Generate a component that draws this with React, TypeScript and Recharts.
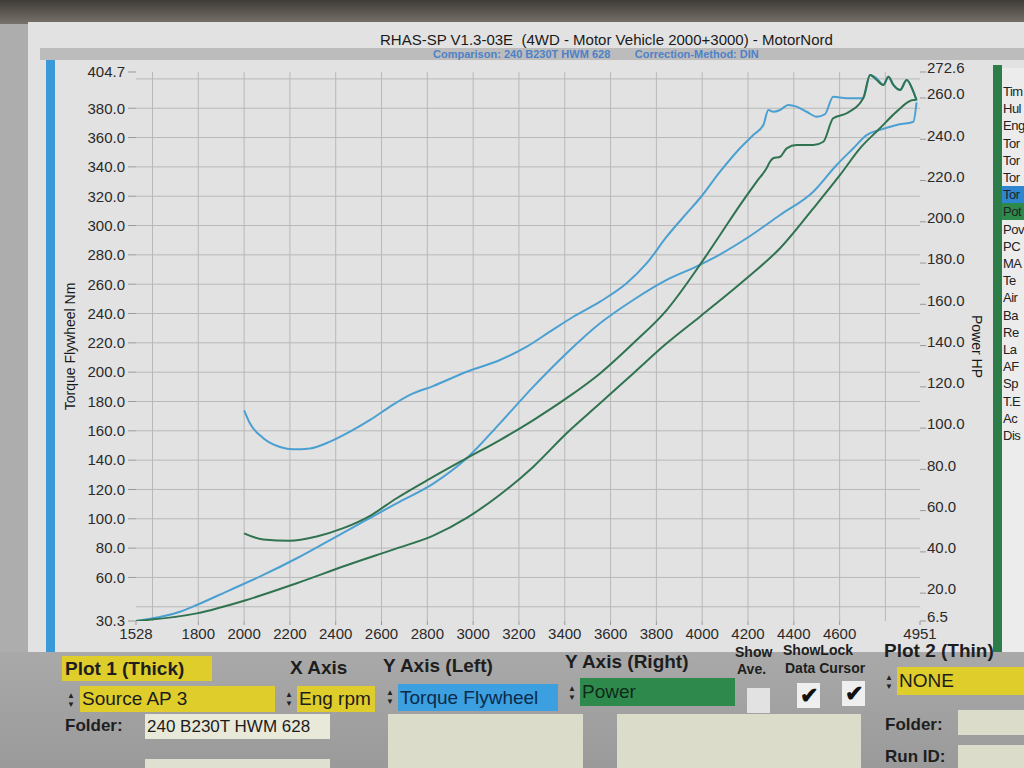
import React from 'react';
import { LineChart, Line, XAxis, YAxis, CartesianGrid } from 'recharts';

// x axis (engine rpm)
const rpmTicks = [1528, 1800, 2000, 2200, 2400, 2600, 2800, 3000, 3200, 3400, 3600, 3800, 4000, 4200, 4400, 4600, 4951];
const rpmGrid = [1600, 1800, 2000, 2200, 2400, 2600, 2800, 3000, 3200, 3400, 3600, 3800, 4000, 4200, 4400, 4600, 4800];

// left axis (torque Nm) and right axis (power HP)
const torqueTicks = [30.3, 60, 80, 100, 120, 140, 160, 180, 200, 220, 240, 260, 280, 300, 320, 340, 360, 380, 404.7];
const torqueGrid = [40, 60, 80, 100, 120, 140, 160, 180, 200, 220, 240, 260, 280, 300, 320, 340, 360, 380, 400];
const powerTicks = [6.5, 20, 40, 60, 80, 100, 120, 140, 160, 180, 200, 220, 240, 260, 272.6];

// run starting at 2000 rpm
const torqueA_rpm = [2000, 2026, 2084, 2157, 2215, 2288, 2375, 2462, 2550, 2637, 2724, 2825, 2972, 3117, 3234, 3335, 3437, 3554, 3670, 3758, 3845, 3932, 3990, 4078, 4165, 4223, 4267, 4289, 4310, 4340, 4376, 4412, 4456, 4500, 4536, 4572, 4631, 4703, 4733, 4762, 4791, 4813, 4835, 4864, 4893, 4922, 4936];
const torqueA_nm = [174, 165, 155, 149, 147.4, 148, 152.6, 159.4, 167.4, 176.5, 184.5, 190.5, 200.3, 208.3, 217.4, 227.6, 237.8, 248.1, 260.6, 274.3, 292.4, 308.3, 318.6, 336.7, 352.7, 361.7, 368.6, 378.8, 377.6, 378.8, 382.2, 381.1, 377.6, 374.2, 375.9, 387.9, 386.8, 386.8, 402.7, 400.4, 395.8, 401.5, 395.8, 392.4, 399.3, 391.3, 385];
const powerA_rpm = [2000, 2084, 2200, 2317, 2433, 2550, 2666, 2812, 2972, 3117, 3263, 3408, 3554, 3699, 3845, 3990, 4078, 4165, 4238, 4281, 4296, 4310, 4340, 4369, 4412, 4485, 4529, 4572, 4631, 4703, 4733, 4762, 4791, 4813, 4835, 4864, 4893, 4922, 4936];
const powerA_hp = [49, 46, 45.4, 47.5, 51.5, 57.5, 66, 75.5, 85.4, 94.2, 103.9, 114.5, 126.5, 141.1, 157.2, 179.1, 193.6, 208.1, 219.5, 225.9, 229.1, 230.8, 231.5, 235.6, 237.2, 237.2, 238.8, 250.2, 252.6, 259.9, 271.2, 268.7, 266.3, 270.3, 266.3, 263.9, 268.7, 263.1, 259];

// run starting at 1528 rpm
const torqueB_rpm = [1528, 1720, 1793, 1938, 2084, 2230, 2375, 2520, 2666, 2826, 2972, 3117, 3263, 3408, 3554, 3699, 3845, 3990, 4048, 4194, 4340, 4485, 4587, 4660, 4718, 4776, 4849, 4922, 4936];
const torqueB_nm = [30.3, 36.6, 41.2, 51.4, 61.7, 73.1, 85.5, 98, 110.6, 124, 141.3, 165.1, 190.1, 212.9, 233.3, 249.2, 262.9, 273.1, 277.7, 291.3, 307.2, 323.1, 341.3, 352.7, 361.7, 365.2, 368.6, 370.8, 384];
const powerB_rpm = [1528, 1793, 2011, 2230, 2448, 2666, 2826, 2972, 3117, 3263, 3408, 3554, 3699, 3845, 3990, 4194, 4340, 4485, 4602, 4689, 4776, 4849, 4922, 4936];
const powerB_hp = [6.5, 10.2, 16.7, 24.8, 33.5, 41.7, 47.9, 56.5, 67.7, 81.3, 97.5, 112, 126.5, 141.1, 154, 172.6, 187.2, 206.5, 222.7, 235.6, 245.3, 253.4, 259, 259];

const channelList = ['Tim', 'Hul', 'Eng', 'Tor', 'Tor', 'Tor', 'Tor', 'Pot', 'Pov', 'PC', 'MA', 'Te', 'Air', 'Ba', 'Re', 'La', 'AF', 'Sp', 'T.E', 'Ac', 'Dis'];

const BLUE = '#4ba0d2';
const GREEN = '#2f7350';
const FONT = '"Liberation Sans", Arial, sans-serif';

const toPoints = (rpm: number[], vals: number[]) => rpm.map((r, i) => ({ rpm: r, v: vals[i] }));

const Arrows = ({ left, top }: { left: number; top: number }) => (
  <div style={{ position: 'absolute', left, top, fontSize: 8, lineHeight: '9px', color: '#222' }}>
    <div>▲</div>
    <div>▼</div>
  </div>
);

const Field = ({ left, top, width, height, bg, text, color = '#1c1c1c', size = 19 }: any) => (
  <div
    style={{
      position: 'absolute', left, top, width, height, background: bg, color, fontSize: size,
      lineHeight: `${height}px`, overflow: 'hidden', whiteSpace: 'nowrap', paddingLeft: 2, boxSizing: 'border-box',
    }}
  >
    {text}
  </div>
);

const Label = ({ left, top, text, size = 19, bold = true }: any) => (
  <div
    style={{
      position: 'absolute', left, top, fontSize: size, lineHeight: `${size + 2}px`,
      fontWeight: bold ? 'bold' : 'normal', color: '#1e1e1e', whiteSpace: 'nowrap',
    }}
  >
    {text}
  </div>
);

const Check = ({ left, top, checked }: { left: number; top: number; checked: boolean }) => (
  <div
    style={{
      position: 'absolute', left, top, width: 23, height: 25, background: checked ? '#efefef' : '#e2e2e2',
      fontSize: 22, lineHeight: '25px', textAlign: 'center', color: '#111', fontWeight: 'bold',
    }}
  >
    {checked ? '✔' : ''}
  </div>
);

export default function App() {
  const tqA = toPoints(torqueA_rpm, torqueA_nm);
  const pwA = toPoints(powerA_rpm, powerA_hp);
  const tqB = toPoints(torqueB_rpm, torqueB_nm);
  const pwB = toPoints(powerB_rpm, powerB_hp);
  const tickStyle = { fill: '#2a2a2a', fontSize: 15, fontFamily: FONT };

  return (
    <div style={{ position: 'absolute', left: 0, top: 0, width: 1024, height: 768, overflow: 'hidden', background: '#adadad', fontFamily: FONT }}>
      {/* bezel */}
      <div style={{ position: 'absolute', left: 0, top: 0, width: 1024, height: 24, background: 'linear-gradient(#3f3b36, #77726b)' }} />
      {/* screen */}
      <div style={{ position: 'absolute', left: 28, top: 22, width: 996, height: 630, background: '#e2e2e2' }} />
      <div style={{ position: 'absolute', left: 40, top: 48, width: 984, height: 12, background: '#bcbcbc' }} />
      <div style={{ position: 'absolute', left: 380, top: 32, fontSize: 15, lineHeight: '16px', color: '#1a1a1a', whiteSpace: 'pre' }}>
        {'RHAS-SP V1.3-03E  (4WD - Motor Vehicle 2000+3000) - MotorNord'}
      </div>
      <div style={{ position: 'absolute', left: 433, top: 48, fontSize: 11, lineHeight: '12px', fontWeight: 'bold', color: '#4d82c8', whiteSpace: 'pre' }}>
        {'Comparison: 240 B230T HWM 628        Correction-Method: DIN'}
      </div>
      <div style={{ position: 'absolute', left: 46, top: 60, width: 9, height: 595, background: '#3a9ad8' }} />
      <div style={{ position: 'absolute', left: 993, top: 65, width: 9, height: 587, background: '#2c7d48' }} />
      <div style={{ position: 'absolute', left: 1002, top: 68, width: 22, height: 584, background: '#ececec' }} />
      {channelList.map((c, i) => (
        <div
          key={i}
          style={{
            position: 'absolute', left: 1002, top: 83 + i * 17.2, width: 22, height: 17, paddingLeft: 1,
            fontSize: 13, lineHeight: '17px', letterSpacing: -0.5, overflow: 'hidden', whiteSpace: 'nowrap', color: '#222',
            background: i === 6 ? '#2f86d0' : i === 7 ? '#2e8a4c' : 'transparent', boxSizing: 'border-box',
          }}
        >
          {c}
        </div>
      ))}

      {/* chart */}
      <div style={{ position: 'absolute', left: 56, top: 60 }}>
        <LineChart width={934} height={600} margin={{ top: 12, right: 0, bottom: 9, left: 0 }}>
          <CartesianGrid
            yAxisId="left"
            stroke="#b8b8b8"
            verticalValues={rpmGrid}
            horizontalValues={torqueGrid}
          />
          <XAxis
            dataKey="rpm"
            type="number"
            domain={[1528, 4951]}
            allowDataOverflow
            ticks={rpmTicks}
            interval={0}
            height={30}
            tickSize={4}
            tickMargin={3}
            axisLine={false}
            tickLine={{ stroke: '#999' }}
            tick={tickStyle}
          />
          <YAxis
            yAxisId="left"
            type="number"
            domain={[30.3, 404.7]}
            allowDataOverflow
            ticks={torqueTicks}
            interval={0}
            width={80}
            tickSize={8}
            tickMargin={3}
            axisLine={false}
            tickLine={{ stroke: '#999' }}
            tick={tickStyle}
            tickFormatter={(v: number) => v.toFixed(1)}
            label={{ value: 'Torque Flywheel Nm', angle: -90, position: 'center', dx: -26, style: { fontSize: 14, fill: '#1a1a1a', fontFamily: FONT } }}
          />
          <YAxis
            yAxisId="right"
            orientation="right"
            type="number"
            domain={[6.5, 272.6]}
            allowDataOverflow
            ticks={powerTicks}
            interval={0}
            width={70}
            tickSize={6}
            tickMargin={1}
            axisLine={false}
            tickLine={{ stroke: '#999' }}
            tick={{ ...tickStyle, dy: -4 }}
            tickFormatter={(v: number) => v.toFixed(1)}
            label={{ value: 'Power HP', angle: 90, position: 'center', dx: 22, style: { fontSize: 14, fill: '#1a1a1a', fontFamily: FONT } }}
          />
          <Line yAxisId="left" data={tqB} dataKey="v" type="monotone" stroke={BLUE} strokeWidth={2} dot={false} isAnimationActive={false} />
          <Line yAxisId="right" data={pwB} dataKey="v" type="monotone" stroke={GREEN} strokeWidth={2} dot={false} isAnimationActive={false} />
          <Line yAxisId="left" data={tqA} dataKey="v" type="monotone" stroke={BLUE} strokeWidth={2} dot={false} isAnimationActive={false} />
          <Line yAxisId="right" data={pwA} dataKey="v" type="monotone" stroke={GREEN} strokeWidth={2} dot={false} isAnimationActive={false} />
        </LineChart>
      </div>

      {/* control panel */}
      <div style={{ position: 'absolute', left: 0, top: 652, width: 1024, height: 116, background: 'linear-gradient(#a9a9a9, #9a9a9a)' }} />
      <div style={{ position: 'absolute', left: 62, top: 656, width: 150, height: 25, background: '#dfcd2c' }} />
      <Label left={65} top={658} text="Plot 1 (Thick)" />
      <Label left={290} top={657} text="X Axis" />
      <Label left={383} top={655} text="Y Axis (Left)" />
      <Label left={565} top={651} text="Y Axis (Right)" />
      <Label left={735} top={644} text="Show" size={14} />
      <Label left={737} top={661} text="Ave." size={14} />
      <Label left={783} top={642} text="ShowLock" size={14} />
      <Label left={785} top={660} text="Data Cursor" size={14} />
      <Label left={884} top={640} text="Plot 2 (Thin)" />

      <Arrows left={67} top={691} />
      <Field left={80} top={686} width={195} height={26} bg="#dfcd2c" text="Source AP 3" />
      <Arrows left={285} top={690} />
      <Field left={297} top={686} width={78} height={26} bg="#dfcd2c" text="Eng rpm" />
      <Arrows left={386} top={688} />
      <Field left={398} top={684} width={160} height={27} bg="#3b9fe0" text="Torque Flywheel" color="#0c2a4a" />
      <Arrows left={568} top={684} />
      <Field left={580} top={678} width={155} height={28} bg="#2e8a4c" text="Power" color="#0f2a18" />
      <Check left={747} top={688} checked={false} />
      <Check left={797} top={683} checked />
      <Check left={842} top={681} checked />
      <Arrows left={885} top={673} />
      <Field left={897} top={667} width={127} height={28} bg="#dfcd2c" text="NONE" />

      <Label left={65} top={716} text="Folder:" size={17} />
      <Field left={145} top={714} width={185} height={25} bg="#e9e9da" text="240 B230T HWM 628" size={17} />
      <Field left={145} top={759} width={185} height={20} bg="#e0e0d0" text="" size={17} />
      <Field left={388} top={714} width={195} height={60} bg="#dcdccb" text="" />
      <Field left={617} top={714} width={244} height={60} bg="#dcdccb" text="" />
      <Label left={885} top={715} text="Folder:" size={17} />
      <Field left={958} top={710} width={70} height={25} bg="#dcdccb" text="" />
      <Label left={885} top={747} text="Run ID:" size={17} />
      <Field left={958} top={745} width={70} height={25} bg="#dcdccb" text="" />
    </div>
  );
}
